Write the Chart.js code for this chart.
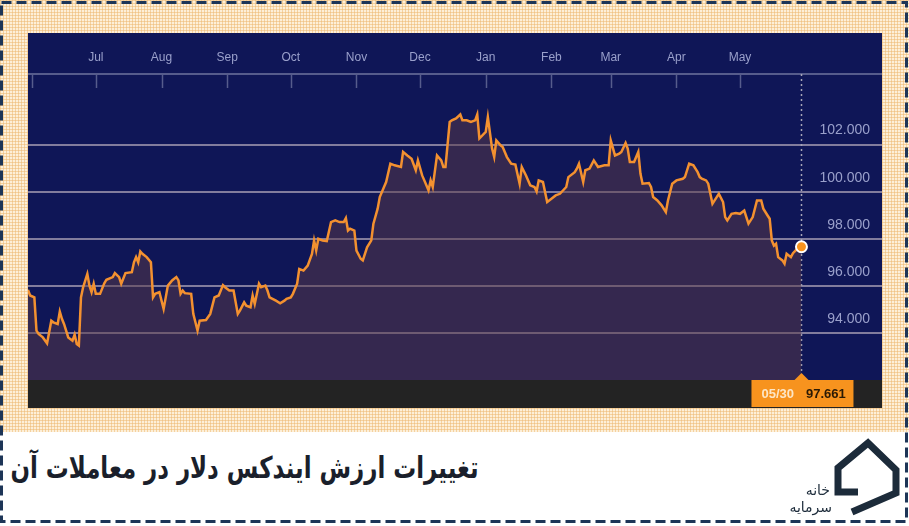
<!DOCTYPE html>
<html><head><meta charset="utf-8">
<script src="https://cdn.jsdelivr.net/npm/chart.js@4.4.0/dist/chart.umd.min.js"></script>
<style>
html,body{margin:0;padding:0;}
body{width:909px;height:526px;position:relative;overflow:hidden;background:#fff;font-family:"Liberation Sans",Arial,sans-serif;}
#beige{position:absolute;left:0;top:0;width:909px;height:432px;background-color:#fdefd8;background-image:linear-gradient(90deg,rgba(238,185,115,.55) 1px,transparent 1px),linear-gradient(rgba(238,185,115,.55) 1px,transparent 1px);background-size:3px 3px;}
#panel{position:absolute;left:28px;top:33px;width:854px;height:375px;background:linear-gradient(#0f1657 0,#0f1657 347px,#232323 347px);}
#panel canvas{position:absolute;left:0;top:0;}
#title{position:absolute;right:431px;top:448px;direction:rtl;font:bold 30px "DejaVu Sans",sans-serif;color:#1a1f2b;white-space:nowrap;line-height:40px;transform-origin:100% 50%;}
svg.ov{position:absolute;left:0;top:0;}
</style></head>
<body>
<div id="beige"></div>
<div id="panel"><canvas id="c" width="854" height="375"></canvas></div>
<div id="title">تغییرات ارزش ایندکس دلار در معاملات آن</div>
<svg class="ov" width="909" height="526">
  <rect x="1.5" y="2.5" width="905" height="519" fill="none" stroke="#1d3557" stroke-width="3" stroke-dasharray="10 5"/>
  <polyline points="858,492 838,492 838,468 868,443 896,470 896,493 852,512" fill="none" stroke="#1c2b3a" stroke-width="7" stroke-linejoin="miter"/>
  <text x="830" y="495" text-anchor="end" font-family="DejaVu Sans" font-size="14" fill="#1c2b3a">خانه</text>
  <text x="832" y="512" text-anchor="end" font-family="DejaVu Sans" font-size="14" fill="#1c2b3a">سرمایه</text>
</svg>
<script>
const dates = [
"2016-05-30","2016-05-31","2016-06-02","2016-06-03","2016-06-04","2016-06-06","2016-06-08","2016-06-10","2016-06-11","2016-06-13",
"2016-06-14","2016-06-15","2016-06-16","2016-06-18","2016-06-20","2016-06-21","2016-06-22","2016-06-23","2016-06-24","2016-06-25",
"2016-06-27","2016-06-28","2016-06-29","2016-06-30","2016-07-01","2016-07-03","2016-07-05","2016-07-06","2016-07-09","2016-07-10",
"2016-07-12","2016-07-13","2016-07-15","2016-07-18","2016-07-19","2016-07-20","2016-07-21","2016-07-22","2016-07-23","2016-07-25",
"2016-07-27","2016-07-28","2016-07-29","2016-07-31","2016-08-02","2016-08-03","2016-08-04","2016-08-06","2016-08-08","2016-08-09",
"2016-08-10","2016-08-11","2016-08-12","2016-08-15","2016-08-16","2016-08-18","2016-08-19","2016-08-22","2016-08-24","2016-08-26",
"2016-08-28","2016-08-30","2016-08-31","2016-09-02","2016-09-04","2016-09-06","2016-09-07","2016-09-09","2016-09-10","2016-09-12",
"2016-09-13","2016-09-14","2016-09-16","2016-09-17","2016-09-19","2016-09-20","2016-09-21","2016-09-24","2016-09-26","2016-09-28",
"2016-09-29","2016-10-01","2016-10-02","2016-10-04","2016-10-05","2016-10-07","2016-10-09","2016-10-11","2016-10-12","2016-10-13",
"2016-10-14","2016-10-16","2016-10-18","2016-10-20","2016-10-22","2016-10-24","2016-10-26","2016-10-27","2016-10-28","2016-10-29",
"2016-10-31","2016-11-01","2016-11-03","2016-11-04","2016-11-06","2016-11-08","2016-11-09","2016-11-11","2016-11-12","2016-11-14",
"2016-11-15","2016-11-17","2016-11-19","2016-11-22","2016-11-23","2016-11-25","2016-11-27","2016-11-29","2016-11-30","2016-12-02",
"2016-12-04","2016-12-05","2016-12-06","2016-12-07","2016-12-09","2016-12-11","2016-12-12","2016-12-13","2016-12-15","2016-12-16",
"2016-12-18","2016-12-20","2016-12-21","2016-12-23","2016-12-25","2016-12-27","2016-12-28","2016-12-29","2017-01-01","2017-01-02",
"2017-01-04","2017-01-05","2017-01-06","2017-01-08","2017-01-09","2017-01-11","2017-01-13","2017-01-15","2017-01-17","2017-01-18",
"2017-01-20","2017-01-22","2017-01-24","2017-01-25","2017-01-26","2017-01-28","2017-01-30","2017-02-01","2017-02-03","2017-02-05",
"2017-02-08","2017-02-09","2017-02-12","2017-02-13","2017-02-14","2017-02-16","2017-02-17","2017-02-19","2017-02-21","2017-02-23",
"2017-02-26","2017-02-28","2017-03-01","2017-03-03","2017-03-05","2017-03-06","2017-03-08","2017-03-09","2017-03-10","2017-03-12",
"2017-03-14","2017-03-15","2017-03-16","2017-03-19","2017-03-20","2017-03-21","2017-03-23","2017-03-25","2017-03-27","2017-03-28",
"2017-03-30","2017-04-01","2017-04-04","2017-04-05","2017-04-07","2017-04-09","2017-04-11","2017-04-12","2017-04-13","2017-04-15",
"2017-04-16","2017-04-18","2017-04-20","2017-04-21","2017-04-23","2017-04-24","2017-04-25","2017-04-27","2017-04-29","2017-05-01",
"2017-05-03","2017-05-04","2017-05-05","2017-05-07","2017-05-09","2017-05-11","2017-05-12","2017-05-14","2017-05-15","2017-05-16",
"2017-05-17","2017-05-18","2017-05-19","2017-05-21","2017-05-22","2017-05-23","2017-05-25","2017-05-26","2017-05-28","2017-05-30"
];
const values = [
95.83,95.59,95.51,94.10,93.96,93.81,93.56,94.52,94.45,94.38,
94.91,94.60,94.38,93.81,93.67,93.93,93.53,93.46,95.51,95.94,
96.51,96.01,95.73,96.09,95.66,95.66,96.11,96.26,96.37,96.54,
96.37,96.09,96.54,96.58,97.00,97.22,97.00,97.46,97.36,97.22,
97.00,95.51,95.66,95.73,95.02,95.51,96.01,96.23,96.37,96.23,
95.66,95.80,95.69,95.66,94.81,94.10,94.52,94.55,94.81,95.51,
95.59,96.03,95.94,95.80,95.80,94.81,94.95,95.30,95.16,95.09,
95.59,95.23,96.09,95.94,96.01,95.80,95.51,95.37,95.26,95.37,
95.45,95.51,95.66,96.09,96.72,96.65,96.86,97.36,97.93,97.50,
98.00,97.93,97.90,98.71,98.78,98.71,98.71,98.88,98.35,98.43,
98.35,97.50,97.15,97.08,97.64,97.93,98.64,99.28,99.77,100.20,
100.41,101.19,101.12,101.05,101.69,101.54,101.40,100.91,101.33,100.69,
100.27,100.06,100.48,100.20,101.54,101.33,101.05,101.05,102.96,103.03,
103.11,103.28,103.03,103.03,102.96,103.03,103.28,102.26,102.54,103.17,
101.83,101.47,102.18,101.97,101.90,101.47,101.19,101.15,100.34,101.05,
100.69,100.27,100.20,100.01,100.48,100.41,99.56,99.70,99.84,99.91,
100.20,100.62,100.83,100.98,101.19,100.41,100.91,100.98,101.33,101.05,
101.12,101.12,102.18,101.54,101.62,101.69,102.07,101.83,101.26,101.26,
101.69,100.77,100.34,100.37,100.20,99.77,99.63,99.42,99.13,99.63,
100.34,100.48,100.55,100.62,101.19,101.12,100.83,100.62,100.55,100.48,
100.34,99.49,99.77,99.91,99.56,98.92,98.78,99.06,99.09,99.06,
99.20,98.92,98.64,98.92,99.63,99.63,99.28,98.99,98.85,97.93,
97.71,97.79,97.22,97.08,96.94,97.36,97.22,97.39,97.57,97.661
];
const monthTickDates = ["2016-06-01","2016-07-01","2016-08-01","2016-09-01","2016-10-01","2016-11-01","2016-12-01","2017-01-01","2017-02-01","2017-03-01","2017-04-01","2017-05-01"];
const monthLabels = ["","Jul","Aug","Sep","Oct","Nov","Dec","Jan","Feb","Mar","Apr","May"];
const yTickValues = [94,96,98,100,102];
const axisStartDate = "2016-05-30";
const axisEndDate = "2017-07-07";
const yMin = 92, yMax = 105;

const baseMs = Date.UTC(2016,6,1);
function toDay(s){const p=s.split('-').map(Number);return (Date.UTC(p[0],p[1]-1,p[2])-baseMs)/86400000;}
const points = dates.map((d,i)=>({x:toDay(d),y:values[i]}));
const lastIdx = points.length-1;
const FONT = '"Liberation Sans", Arial, sans-serif';

const decor = {
  id:'decor',
  beforeDatasetsDraw(chart){
    const {ctx, chartArea:a, scales:{x}} = chart;
    ctx.save();
    ctx.strokeStyle='#565c8c'; ctx.lineWidth=2;
    ctx.beginPath(); ctx.moveTo(0,a.top); ctx.lineTo(chart.width,a.top); ctx.stroke();
    ctx.lineWidth=1.5;
    monthTickDates.forEach(d=>{
      const px=Math.round(x.getPixelForValue(toDay(d)))+0.5;
      ctx.beginPath(); ctx.moveTo(px,a.top); ctx.lineTo(px,a.top+14); ctx.stroke();
    });
    const lx = Math.round(x.getPixelForValue(points[lastIdx].x))+0.5;
    ctx.strokeStyle='#a8a6b8'; ctx.lineWidth=1.5; ctx.setLineDash([2,3]);
    ctx.beginPath(); ctx.moveTo(lx,a.top); ctx.lineTo(lx,a.bottom); ctx.stroke();
    ctx.restore();
  },
  afterDraw(chart){
    const {ctx, chartArea:a, scales:{x}} = chart;
    const px = x.getPixelForValue(points[lastIdx].x);
    const top=a.bottom, h=27;
    ctx.save();
    ctx.fillStyle='#f7931e';
    ctx.fillRect(px-50,top,102,h);
    ctx.beginPath(); ctx.moveTo(px-7.5,top+0.5); ctx.lineTo(px,top-7); ctx.lineTo(px+7.5,top+0.5); ctx.closePath(); ctx.fill();
    ctx.textBaseline='middle';
    ctx.font='bold 13px '+FONT;
    const parts = dates[lastIdx].split('-');
    ctx.fillStyle='#fde6c6'; ctx.textAlign='left';
    ctx.fillText(parts[1]+'/'+parts[2], px-40, top+h/2+1);
    ctx.fillStyle='#2a1a05';
    ctx.fillText(values[lastIdx].toFixed(3), px+4.5, top+h/2+1);
    ctx.restore();
  }
};

new Chart(document.getElementById('c'), {
  type:'line',
  data:{datasets:[{
    data:points,
    borderColor:'#f39130',
    borderWidth:2.5,
    backgroundColor:'rgba(91,58,72,0.5)',
    fill:'start',
    tension:0,
    pointRadius:c=>c.dataIndex===lastIdx?5.5:0,
    pointHoverRadius:0,
    pointBackgroundColor:'#f7931e',
    pointBorderColor:'#ffffff',
    pointBorderWidth:2
  }]},
  options:{
    responsive:false, animation:false, devicePixelRatio:1,
    layout:{autoPadding:false,padding:{left:0,right:0,top:0,bottom:28}},
    plugins:{legend:{display:false},tooltip:{enabled:false}},
    scales:{
      x:{type:'linear',position:'top',min:toDay(axisStartDate),max:toDay(axisEndDate),
        afterBuildTicks:s=>{s.ticks=monthTickDates.map(d=>({value:toDay(d)}));},
        afterFit:s=>{s.height=41;s.paddingLeft=0;s.paddingRight=0;},
        grid:{display:false,drawTicks:false},border:{display:false},
        ticks:{padding:9,color:'#9aa0cb',font:{size:12,family:FONT},maxRotation:0,autoSkip:false,
          callback:(v,i)=>monthLabels[i]}},
      y:{position:'right',min:yMin,max:yMax,
        afterBuildTicks:s=>{s.ticks=yTickValues.map(v=>({value:v}));},
        afterFit:s=>{s.width=0;s.paddingTop=0;s.paddingBottom=0;},
        grid:{color:'rgba(170,160,180,0.75)',lineWidth:2,drawTicks:false},border:{display:false},
        ticks:{mirror:true,padding:-12,labelOffset:-14,color:'#9aa0cb',font:{size:14,family:FONT},
          callback:v=>Number(v).toFixed(3)}}
    }
  },
  plugins:[decor]
});

const t=document.getElementById('title');
const w=t.getBoundingClientRect().width;
t.style.transform='scaleX('+(468/w)+')';
</script>
</body></html>
